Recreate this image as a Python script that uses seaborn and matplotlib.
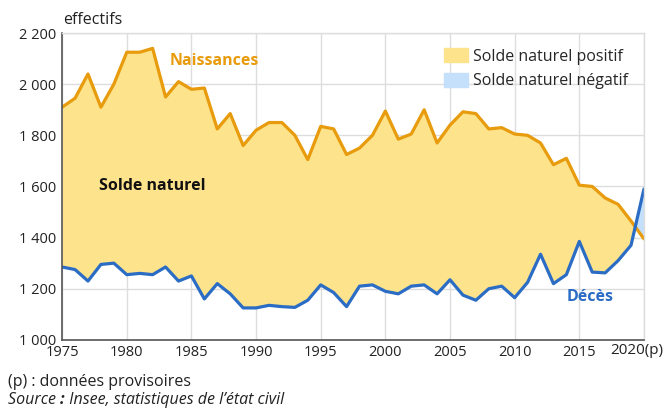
import numpy as np
import pandas as pd
import matplotlib
matplotlib.use("Agg")
import matplotlib.pyplot as plt
import matplotlib.transforms as mtransforms
import seaborn as sns
from matplotlib.patches import Patch
from matplotlib.ticker import FuncFormatter

years = list(range(1975, 2021))
naissances = [1910, 1945, 2040, 1910, 2000, 2125, 2125, 2140, 1950, 2010,
              1980, 1985, 1825, 1885, 1760, 1820, 1850, 1850, 1800, 1705,
              1835, 1825, 1725, 1750, 1800, 1895, 1785, 1805, 1900, 1770,
              1840, 1892, 1885, 1825, 1830, 1805, 1800, 1770, 1685, 1710,
              1605, 1600, 1555, 1530, 1465, 1395]
deces = [1285, 1275, 1230, 1295, 1300, 1255, 1260, 1255, 1285, 1230,
         1250, 1160, 1220, 1180, 1125, 1125, 1135, 1130, 1127, 1155,
         1215, 1185, 1130, 1210, 1215, 1190, 1180, 1210, 1215, 1180,
         1235, 1175, 1155, 1200, 1210, 1165, 1225, 1335, 1220, 1255,
         1385, 1265, 1262, 1310, 1370, 1590]
xtick_labels = ["1975", "1980", "1985", "1990", "1995", "2000", "2005",
                "2010", "2015", "2020(p)"]

df = pd.DataFrame({"annee": years, "naissances": naissances, "deces": deces})

c_orange = "#E89B0C"
c_blue = "#2B6CC4"
c_pos = "#FDE38C"
c_neg = "#C5E0FA"
c_txt = "#222222"

sns.set_theme(style="whitegrid")
plt.rcParams["font.family"] = ["Open Sans", "DejaVu Sans"]

fig, ax = plt.subplots(figsize=(6.68, 4.08), dpi=100)
fig.subplots_adjust(left=0.093, right=0.964, top=0.919, bottom=0.167)

x = df["annee"].values
b = df["naissances"].values
d = df["deces"].values
ax.fill_between(x, d, b, where=b >= d, interpolate=True, color=c_pos, lw=0)
ax.fill_between(x, d, b, where=b < d, interpolate=True, color=c_neg, lw=0)

sns.lineplot(data=df, x="annee", y="naissances", ax=ax, color=c_orange, lw=2.3)
sns.lineplot(data=df, x="annee", y="deces", ax=ax, color=c_blue, lw=2.3)

ax.set_xlim(1975, 2020)
ax.set_ylim(1000, 2200)
ax.set_xticks(range(1975, 2021, 5))
ax.set_xticklabels(xtick_labels)
ax.set_yticks(range(1000, 2201, 200))
ax.yaxis.set_major_formatter(FuncFormatter(lambda v, p: f"{v:,.0f}".replace(",", " ")))
ax.tick_params(axis="both", labelsize=10.5, colors=c_txt, length=0, pad=4)
last = ax.get_xticklabels()[-1]
last.set_fontsize(11)
last.set_transform(last.get_transform() + mtransforms.ScaledTranslation(-7 / 100, 2 / 100, fig.dpi_scale_trans))
ax.set_xlabel("")
ax.set_ylabel("")
ax.grid(True, color="#dddddd", lw=1)
ax.set_axisbelow(True)

for s in ["top", "right"]:
    ax.spines[s].set_color("#dddddd")
    ax.spines[s].set_linewidth(1)
for s in ["left", "bottom"]:
    ax.spines[s].set_color("#555555")
    ax.spines[s].set_linewidth(1.2)

ax.text(1986.75, 2090, "Naissances", color=c_orange, fontsize=11.5, fontweight="bold", ha="center", va="center")
ax.text(1982.0, 1602, "Solde naturel", color="#111111", fontsize=11.5, fontweight="bold", ha="center", va="center")
ax.text(2015.8, 1169, "Décès", color=c_blue, fontsize=11.5, fontweight="bold", ha="center", va="center")

handles = [Patch(color=c_pos, label="Solde naturel positif"),
           Patch(color=c_neg, label="Solde naturel négatif")]
ax.legend(handles=handles, loc="upper left", bbox_to_anchor=(0.657, 0.95), frameon=False,
          fontsize=11.5, handlelength=1.5, handleheight=0.95, handletextpad=0.3,
          labelspacing=0.5, borderaxespad=0, borderpad=0)

fig.text(0.094, 0.952, "effectifs", fontsize=11.5, color=c_txt, ha="left", va="center")
fig.text(0.012, 0.064, "(p) : données provisoires", fontsize=11.5, color=c_txt, ha="left", va="center")

# source line: "Source" italic, bold colon, then italic text
fig.canvas.draw()
r = fig.canvas.get_renderer()
t1 = fig.text(0.012, 0.019, "Source ", fontsize=11.5, color=c_txt, style="italic", ha="left", va="center")
e1 = t1.get_window_extent(r)
t2 = fig.text(e1.x1 / fig.bbox.width, 0.019, ":", fontsize=11.5, color=c_txt, style="italic",
              fontweight="bold", ha="left", va="center")
e2 = t2.get_window_extent(r)
fig.text(e2.x1 / fig.bbox.width, 0.019, " Insee, statistiques de l\u2019état civil", fontsize=11.5,
         color=c_txt, style="italic", ha="left", va="center")

fig.savefig("out.png", dpi=100)
